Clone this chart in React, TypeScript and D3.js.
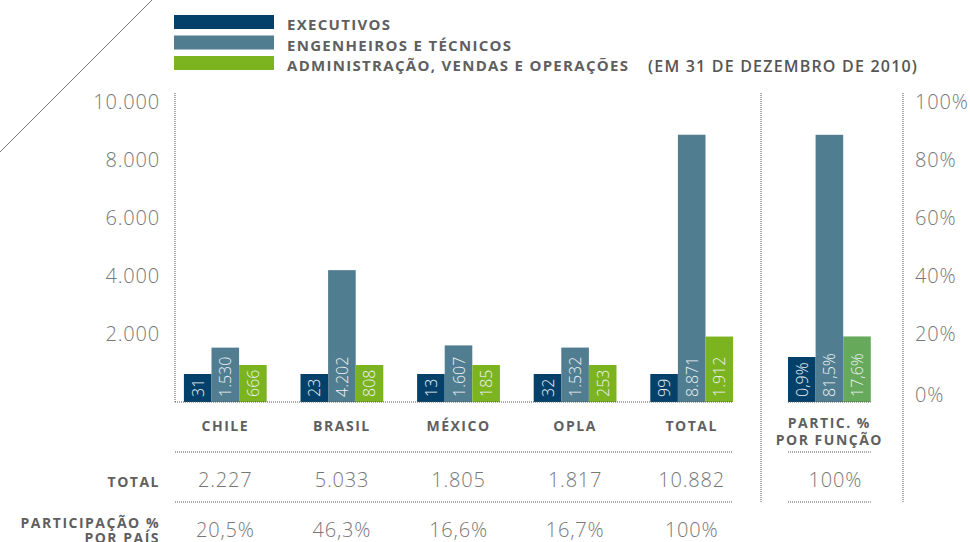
import { scaleBand, scaleLinear, formatLocale } from "d3";

const categories = ["CHILE", "BRASIL", "MÉXICO", "OPLA", "TOTAL"];
const executivos = [31, 23, 13, 32, 99];
const engenheiros = [1530, 4202, 1607, 1532, 8871];
const administracao = [666, 808, 185, 253, 1912];
const totais = [2227, 5033, 1805, 1817, 10882];
const participacaoPais = [20.5, 46.3, 16.6, 16.7, 100];
const participacaoFuncao = [0.9, 81.5, 17.6];
const leftTicks = [2000, 4000, 6000, 8000, 10000];
const rightTicks = [0, 20, 40, 60, 80, 100];
const seriesNames = ["EXECUTIVOS", "ENGENHEIROS E TÉCNICOS", "ADMINISTRAÇÃO, VENDAS E OPERAÇÕES"];

const colors = ["#03416a", "#517d91", "#7bb41f"];
const particColors = ["#03416a", "#517d91", "#66a95a"];

const br = formatLocale({ decimal: ",", thousands: ".", grouping: [3], currency: ["R$", ""] });
const fmtInt = br.format(",d");
const fmtPct = (v: number) => (v === 100 ? "100%" : br.format(".1f")(v) + "%");

const W = 970;
const H = 542;
const base = 402;
const axisX = 175;
const labelFont = "'Open Sans', sans-serif";
const gray = "#5f5f5f";

// rough width of rotated label, used as minimum bar height
const labelWidth = (s: string) =>
  s.split("").reduce((a, c) => a + (c === "%" ? 13 : c === "." || c === "," ? 4 : 9), 0);

export default function App() {
  const y = scaleLinear().domain([0, 10000]).range([392, 102]);
  const pct = scaleLinear().domain([0, 100]).range([392, 102]);

  const x = scaleBand<string>()
    .domain(categories)
    .range([167, 750])
    .paddingInner(0.29)
    .paddingOuter(0.145);
  const sub = scaleBand<number>().domain([0, 1, 2]).range([0, x.bandwidth()]);

  const particX = 788;
  const particW = x.bandwidth();
  const particCenter = particX + particW / 2;
  const grand = totais[totais.length - 1];

  const series = [executivos, engenheiros, administracao];

  const dotted = { stroke: "#555", strokeWidth: 1, strokeDasharray: "1,1" };

  const barTop = (v: number, label: string) => Math.min(y(v), base - (labelWidth(label) + 10));

  const renderBar = (key: string, bx: number, bw: number, v: number, label: string, fill: string) => {
    const top = barTop(v, label);
    const cx = bx + bw / 2;
    return (
      <g key={key}>
        <rect x={bx} y={top} width={bw} height={base - top} fill={fill} />
        <text
          transform={`translate(${cx + 6},${base - 5}) rotate(-90)`}
          fill="#eef3f5"
          fontSize={16}
          fontWeight={300}
          fontFamily={labelFont}
        >
          {label}
        </text>
      </g>
    );
  };

  return (
    <svg width={W} height={H} style={{ position: "absolute", left: 0, top: 0, background: "#fff" }}>
      {/* diagonal decoration */}
      <line x1={152} y1={0} x2={0} y2={152} stroke="#777" strokeWidth={1} />

      {/* legend */}
      {seriesNames.map((name, i) => (
        <g key={name}>
          <rect x={174} y={15 + i * 20.5} width={100} height={14} fill={colors[i]} />
          <text
            x={287}
            y={30 + i * 20.5}
            fill={gray}
            fontSize={15}
            fontWeight={700}
            letterSpacing={1.3}
            fontFamily={labelFont}
          >
            {name}
          </text>
        </g>
      ))}
      <text x={648} y={72} fill="#555" fontSize={16} fontWeight={600} letterSpacing={1.2} fontFamily={labelFont}>
        (EM 31 DE DEZEMBRO DE 2010)
      </text>

      {/* left axis */}
      <line x1={axisX} y1={93} x2={axisX} y2={base} {...dotted} />
      {leftTicks.map((t) => (
        <text
          key={t}
          x={160}
          y={y(t) + 7}
          textAnchor="end"
          fill="#777"
          fontSize={20}
          fontWeight={300}
          letterSpacing={0.8}
          fontFamily={labelFont}
        >
          {fmtInt(t)}
        </text>
      ))}

      {/* right axis */}
      <line x1={761} y1={93} x2={761} y2={502} {...dotted} />
      <line x1={903} y1={93} x2={903} y2={502} {...dotted} />
      {rightTicks.map((t) => (
        <text
          key={t}
          x={915}
          y={pct(t) + (t === 0 ? 10 : 7)}
          fill="#777"
          fontSize={20}
          fontWeight={300}
          letterSpacing={0.8}
          fontFamily={labelFont}
        >
          {t}%
        </text>
      ))}

      {/* bars by country */}
      {categories.map((c, ci) =>
        series.map((s, si) =>
          renderBar(`${c}-${si}`, x(c)! + sub(si)!, sub.bandwidth(), s[ci], fmtInt(s[ci]), colors[si])
        )
      )}
      <line x1={axisX} y1={base} x2={733} y2={base} {...dotted} />

      {/* share by function */}
      {participacaoFuncao.map((p, i) =>
        renderBar(`pf-${i}`, particX + sub(i)!, sub.bandwidth(), (p / 100) * grand, fmtPct(p), particColors[i])
      )}
      <line x1={particX} y1={base} x2={particX + particW} y2={base} {...dotted} />

      {/* category labels */}
      {categories.map((c) => (
        <text
          key={c}
          x={x(c)! + x.bandwidth() / 2}
          y={431}
          textAnchor="middle"
          fill={gray}
          fontSize={14}
          fontWeight={700}
          letterSpacing={1.5}
          fontFamily={labelFont}
        >
          {c}
        </text>
      ))}
      <text textAnchor="middle" fill={gray} fontSize={14} fontWeight={700} letterSpacing={1.5} fontFamily={labelFont}>
        <tspan x={particCenter} y={428}>PARTIC. %</tspan>
        <tspan x={particCenter} y={445}>POR FUNÇÃO</tspan>
      </text>

      {/* table rows */}
      <line x1={axisX} y1={452} x2={733} y2={452} {...dotted} />
      <line x1={axisX} y1={502} x2={733} y2={502} {...dotted} />
      <line x1={particX} y1={452} x2={particX + particW} y2={452} {...dotted} />
      <line x1={particX} y1={502} x2={particX + particW} y2={502} {...dotted} />

      <text x={160} y={487} textAnchor="end" fill={gray} fontSize={14} fontWeight={700} letterSpacing={1.5} fontFamily={labelFont}>
        TOTAL
      </text>
      {categories.map((c, i) => (
        <text
          key={c}
          x={x(c)! + x.bandwidth() / 2}
          y={487}
          textAnchor="middle"
          fill="#777"
          fontSize={20}
          fontWeight={300}
          letterSpacing={0.8}
          fontFamily={labelFont}
        >
          {fmtInt(totais[i])}
        </text>
      ))}
      <text x={particCenter + 6} y={487} textAnchor="middle" fill="#777" fontSize={20} fontWeight={300} letterSpacing={0.8} fontFamily={labelFont}>
        {fmtPct(participacaoFuncao.reduce((a, b) => a + b, 0))}
      </text>

      <text textAnchor="end" fill={gray} fontSize={14} fontWeight={700} letterSpacing={1.5} fontFamily={labelFont}>
        <tspan x={160} y={528}>PARTICIPAÇÃO %</tspan>
        <tspan x={160} y={543}>POR PAÍS</tspan>
      </text>
      {categories.map((c, i) => (
        <text
          key={c}
          x={x(c)! + x.bandwidth() / 2}
          y={537}
          textAnchor="middle"
          fill="#777"
          fontSize={20}
          fontWeight={300}
          letterSpacing={0.8}
          fontFamily={labelFont}
        >
          {fmtPct(participacaoPais[i])}
        </text>
      ))}
    </svg>
  );
}
